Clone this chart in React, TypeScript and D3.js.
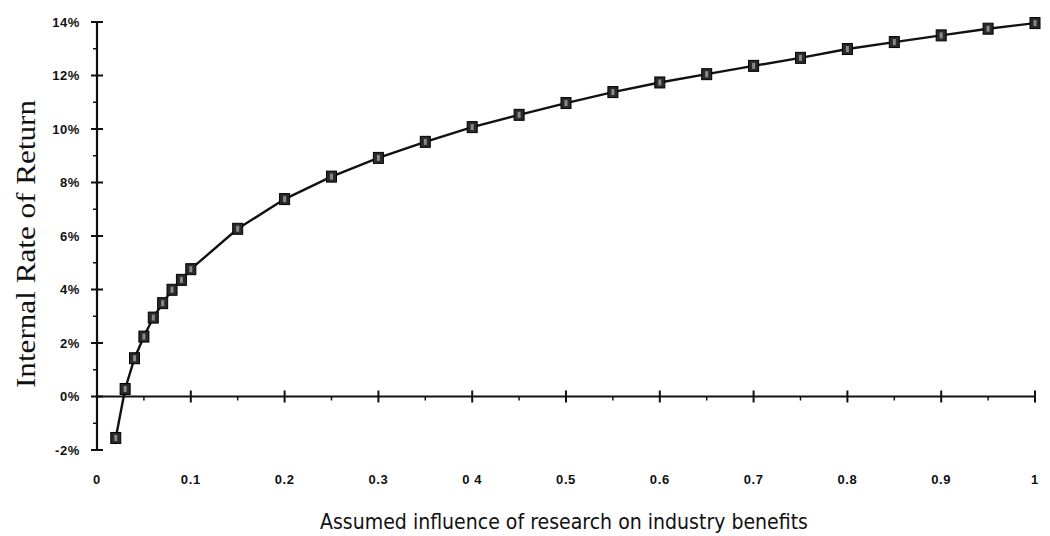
import React from "react";
import * as d3 from "d3";

const xValues = [0.02, 0.03, 0.04, 0.05, 0.06, 0.07, 0.08, 0.09, 0.1, 0.15, 0.2, 0.25, 0.3, 0.35, 0.4, 0.45, 0.5, 0.55, 0.6, 0.65, 0.7, 0.75, 0.8, 0.85, 0.9, 0.95, 1.0];
const irrValues = [-1.55, 0.28, 1.43, 2.24, 2.95, 3.49, 3.99, 4.36, 4.76, 6.27, 7.38, 8.22, 8.92, 9.52, 10.07, 10.53, 10.97, 11.38, 11.74, 12.05, 12.36, 12.66, 12.99, 13.25, 13.5, 13.75, 13.96];
const xTickValues = [0, 0.1, 0.2, 0.3, 0.4, 0.5, 0.6, 0.7, 0.8, 0.9, 1];
const xTickLabels = ["0", "0.1", "0.2", "0.3", "0 4", "0.5", "0.6", "0.7", "0.8", "0.9", "1"];
const yTickValues = [-2, 0, 2, 4, 6, 8, 10, 12, 14];
const yTickLabels = ["-2%", "0%", "2%", "4%", "6%", "8%", "10%", "12%", "14%"];
const xTitle = "Assumed influence of research on industry benefits";
const yTitle = "Internal Rate of Return";

export default function App() {
  const W = 1050, H = 536;
  const x = d3.scaleLinear().domain([0, 1]).range([97, 1035]);
  const y = d3.scaleLinear().domain([-2, 14]).range([450, 22]);
  const pts = xValues.map((v, i) => [v, irrValues[i]] as [number, number]);
  const line = d3.line<[number, number]>().x(d => x(d[0])).y(d => y(d[1]));
  const yMinor = d3.range(-1, 14, 2);
  const xMinor = d3.range(0.05, 1, 0.1);
  const tickFont = "'Liberation Sans', Arial, sans-serif";
  return (
    <svg width={W} height={H} style={{ position: "absolute", left: 0, top: 0, background: "#fff" }}>
      {/* y axis */}
      <line x1={x(0)} x2={x(0)} y1={y(14)} y2={y(-2)} stroke="#111" strokeWidth={2.2} />
      {yTickValues.map((v, i) => (
        <g key={"y" + v}>
          <line x1={x(0) - 6} x2={x(0) + 6} y1={y(v)} y2={y(v)} stroke="#111" strokeWidth={2} />
          <text x={80} y={y(v) + 4.5} textAnchor="end" fontFamily={tickFont} fontWeight="bold" fontSize={13} letterSpacing={0.6} fill="#111">{yTickLabels[i]}</text>
        </g>
      ))}
      {yMinor.map(v => (
        <line key={"ym" + v} x1={x(0) - 4} x2={x(0)} y1={y(v)} y2={y(v)} stroke="#111" strokeWidth={1.5} />
      ))}
      {/* x axis at 0 */}
      <line x1={x(0)} x2={x(1)} y1={y(0)} y2={y(0)} stroke="#111" strokeWidth={2.2} />
      {xTickValues.map((v, i) => (
        <g key={"x" + v}>
          {v > 0 && <line x1={x(v)} x2={x(v)} y1={y(0) - 6} y2={y(0) + 6} stroke="#111" strokeWidth={2} />}
          <text x={x(v)} y={484} textAnchor="middle" fontFamily={tickFont} fontWeight="bold" fontSize={13} letterSpacing={0.6} fill="#111">{xTickLabels[i]}</text>
        </g>
      ))}
      {xMinor.map(v => (
        <line key={"xm" + v} x1={x(v)} x2={x(v)} y1={y(0)} y2={y(0) + 4} stroke="#111" strokeWidth={1.5} />
      ))}
      {/* series */}
      <path d={line(pts) || ""} fill="none" stroke="#111" strokeWidth={2.4} />
      {pts.map((d, i) => (
        <g key={"p" + i}>
          <rect x={x(d[0]) - 5} y={y(d[1]) - 5.5} width={10} height={11} fill="#2a2a2a" stroke="#000" strokeWidth={1} />
          <rect x={x(d[0]) - 1.5} y={y(d[1]) - 3} width={3} height={6} fill="#8a8a8a" />
        </g>
      ))}
      {/* titles */}
      <text transform={`translate(35,244) rotate(-90)`} textAnchor="middle" fontFamily="'Liberation Serif', 'Times New Roman', serif" fontSize={28} textLength={288} lengthAdjust="spacingAndGlyphs" fill="#111">{yTitle}</text>
      <text x={564} y={529} textAnchor="middle" fontFamily="'DejaVu Sans', sans-serif" fontSize={22} textLength={488} lengthAdjust="spacingAndGlyphs" fill="#111">{xTitle}</text>
    </svg>
  );
}
